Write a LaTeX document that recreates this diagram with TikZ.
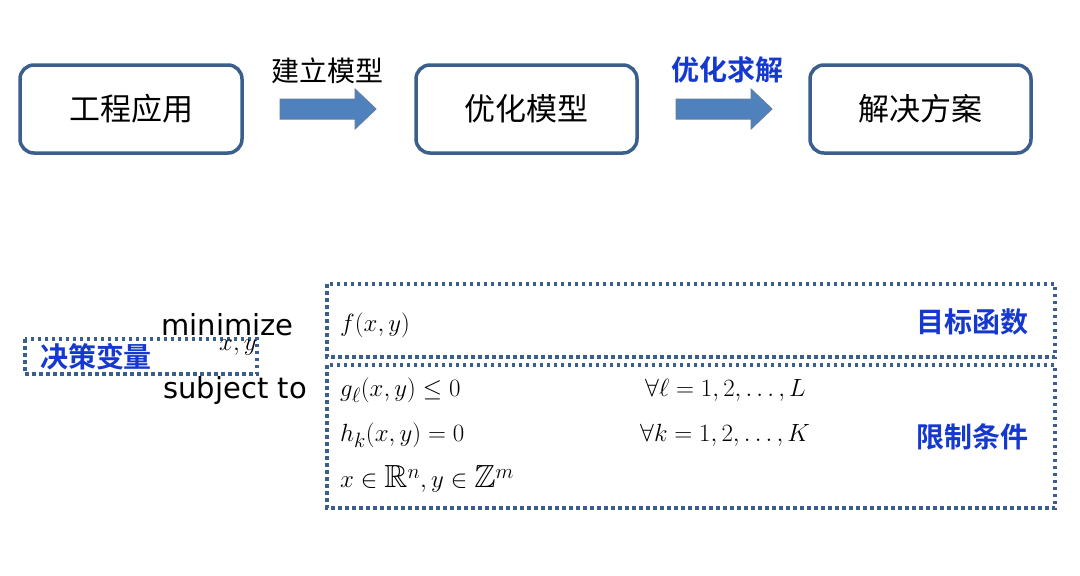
\documentclass[tikz,border=0pt]{standalone}
\usepackage{amsmath,amssymb}
\usepackage{fontspec}
\setmainfont{DejaVu Sans}
\newfontfamily\cjk{Noto Sans CJK SC}
\newfontfamily\cjkb{Noto Sans CJK SC Bold}
\definecolor{frame}{HTML}{3A5F8C}
\definecolor{arr}{HTML}{4F81BD}
\definecolor{lbl}{HTML}{1438D0}
\begin{document}
\begin{tikzpicture}[x=1pt,y=-1pt,
  box/.style={draw=frame,line width=3.5pt,rounded corners=14pt,fill=white},
  dotbox/.style={draw=frame,line width=3.5pt,dash pattern=on 3.5pt off 3.5pt},
  btxt/.style={font=\cjk\fontsize{31}{34}\selectfont},
  blue/.style={text=lbl,font=\cjkb\fontsize{28}{32}\selectfont},
  mt/.style={anchor=west,font=\fontsize{32}{36}\selectfont,inner sep=0pt},
  barrow/.style={draw=frame!80,fill=arr,line width=1pt}]
\useasboundingbox (0,0) rectangle (1080,576);
\fill[white] (0,0) rectangle (1080,576);
% top boxes
\draw[box] (20,65) rectangle (242,153);
\node[btxt] (a) at (131,109) {工程应用};
\draw[box] (416,65) rectangle (637,153);
\node[btxt] (b) at (526,109) {优化模型};
\draw[box] (810,65) rectangle (1031,153);
\node[btxt] (c) at (920,109) {解决方案};
% block arrows
\draw[barrow] (280,99) -- (355,99) -- (355,89) -- (376,109) -- (355,129) -- (355,119) -- (280,119) -- cycle;
\draw[barrow] (676,99) -- (751,99) -- (751,89) -- (772,109) -- (751,129) -- (751,119) -- (676,119) -- cycle;
\node[font=\cjk\fontsize{28}{32}\selectfont] (l1) at (327,71) {建立模型};
\node[blue] (l2) at (727,70) {优化求解};
% dotted boxes
\draw[dotbox] (327,284) rectangle (1055,357);
\draw[dotbox] (327,365) rectangle (1055,508);
\draw[dotbox] (25,339) rectangle (257,374);
\node[blue] (dv) at (96,357) {决策变量};
\node[blue] (obj) at (972,322) {目标函数};
\node[blue] (con) at (972,437) {限制条件};
% text
\node[anchor=east,font=\fontsize{29}{32}\selectfont,inner sep=0pt] (mn) at (294,325) {minimize};
\node[font=\fontsize{26}{28}\selectfont,inner sep=0pt] (xy) at (238,348) {$x,y$};
\node[anchor=east,font=\fontsize{29}{32}\selectfont,inner sep=0pt] (st) at (307,390) {subject to};
\node[mt] (f) at (340,325) {$f(x,y)$};
\node[mt] (g) at (340,390) {$g_\ell(x,y)\le 0$};
\node[mt] (h) at (340,435) {$h_k(x,y)=0$};
\node[mt] (s) at (340,479) {$x\in\mathbb{R}^n, y\in\mathbb{Z}^m$};
\node[mt] (q1) at (645,390) {$\forall\ell=1,2,\ldots,L$};
\node[mt] (q2) at (640,435) {$\forall k=1,2,\ldots,K$};
\end{tikzpicture}
\end{document}
